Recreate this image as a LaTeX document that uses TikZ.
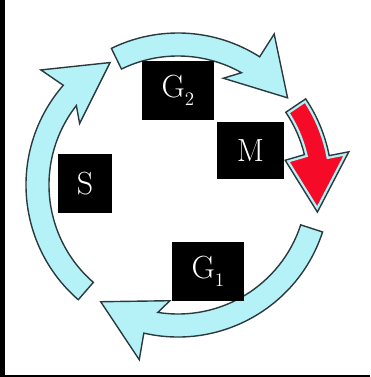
\documentclass[tikz,border=0pt]{standalone}
\usepackage{fontspec}
\usepackage{graphicx}
\usepackage{tikz}

\definecolor{phasefill}{HTML}{B4F2F8}
\definecolor{phaseline}{HTML}{2A3A3E}
\definecolor{mred}{HTML}{F50A28}

% one curved arrow round the centre:
% tail, outer junction, inner junction, outer barb, inner barb, tip (angles)
\newcommand{\arrowpath}[6]{(#1:\shout) arc[start angle=#1, end angle=#2, radius=\shout]
  -- (#4:\hdout) -- (#6:\tipr) -- (#5:\hdin) -- (#3:\shin)
  arc[start angle=#3, end angle=#1, radius=\shin] -- cycle}
% label text, blown up to the picture's size
\newcommand{\phlabel}[1]{\scalebox{1.333}{#1}}
\newcommand{\phsub}[1]{\raisebox{-0.27em}{\fontsize{14.3}{16}\selectfont #1}}

\tikzset{
  phase/.style={fill=phasefill, draw=phaseline, line width=1.4pt, line join=miter},
  phasebox/.style={fill=black, text=white, inner sep=0pt,
    font=\fontsize{24}{28}\selectfont}
}

\begin{document}
\begin{tikzpicture}[x=1pt, y=1pt]
    \useasboundingbox (0,0) rectangle (370,377);
    % Frame
    \fill[black] (0,0) rectangle (5,377);
    \fill[black] (0,0) rectangle (370,2);

    % Cycle arrows
    \begin{scope}[shift={(178,192)}]
        \def\shin{129}\def\shout{152}\def\hdin{116}\def\hdout{179}\def\tipr{140}
        \draw[phase] \arrowpath{229}{139}{142}{140}{148}{119};
        \draw[phase] \arrowpath{116}{57.5}{60.5}{57.5}{67}{38.5};
        \draw[phase] \arrowpath{-18}{-103}{-99}{-102.5}{-94}{-123.5};

        % Mitosis arrow
        \def\shin{130}\def\shout{154}\def\hdin{110}\def\hdout{174}\def\tipr{142}
        \fill[mred] \arrowpath{34}{11}{13.5}{11}{13}{-11};
        \begin{scope}
            \clip \arrowpath{34}{11}{13.5}{11}{13}{-11};
            \draw[phasefill, line width=6pt] \arrowpath{34}{11}{13.5}{11}{13}{-11};
        \end{scope}
        \draw[phaseline, line width=1.4pt] \arrowpath{34}{11}{13.5}{11}{13}{-11};
    \end{scope}

    % Labels
    \node[phasebox, minimum width=72, minimum height=59] (g2) at (178,286.5) {\phlabel{G\phsub{2}}};
    \node[phasebox, minimum width=67, minimum height=57] (m) at (250.5,226.5) {\phlabel{M}};
    \node[phasebox, minimum width=54, minimum height=59] (s) at (85,193.5) {\phlabel{S}};
    \node[phasebox, minimum width=72, minimum height=59] (g1) at (208,105.5) {\phlabel{G\phsub{1}}};
\end{tikzpicture}
\end{document}
